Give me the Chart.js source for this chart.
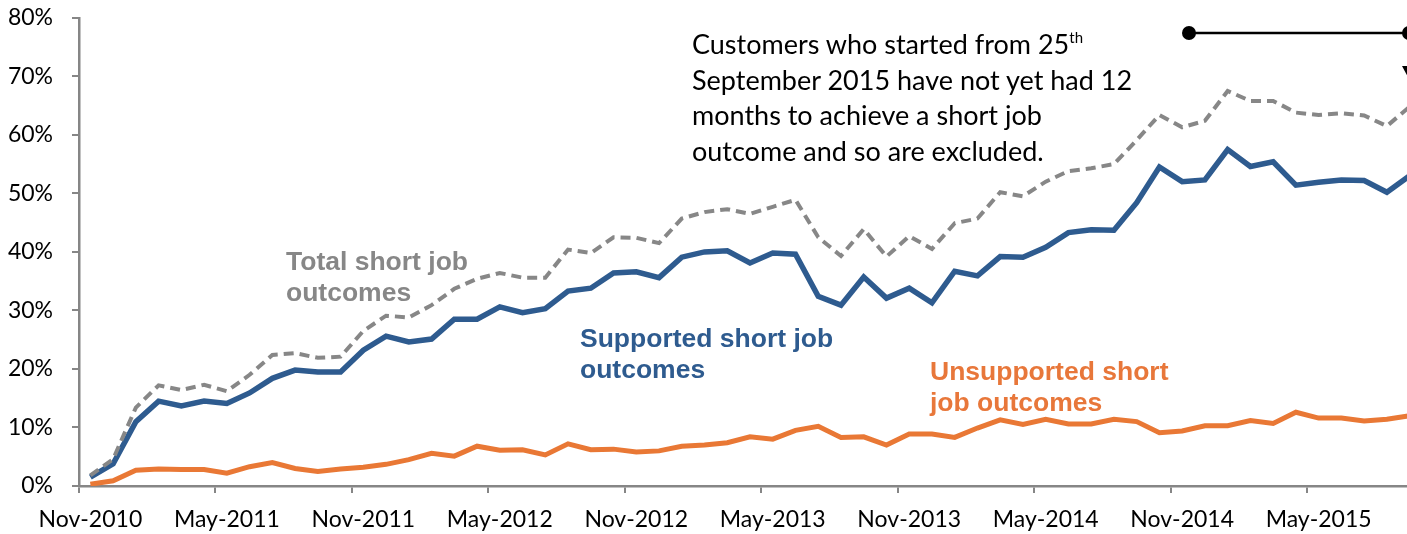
<!DOCTYPE html>
<html>
<head>
<meta charset="utf-8">
<script src="https://cdn.jsdelivr.net/npm/chart.js@4.4.1/dist/chart.umd.min.js"></script>
<style>
  html, body { margin: 0; padding: 0; background: #fff; overflow: hidden; }
  #wrap { position: relative; width: 1430px; height: 534px; }
  #plot { position: absolute; left: 0; top: 0; width: 1430px; height: 534px; }
  .lbl { position: absolute; font-family: "Liberation Sans", Arial, sans-serif; font-weight: bold; font-size: 26.5px; line-height: 31px; white-space: nowrap; }
  #note { position: absolute; left: 692px; top: 26px; font-family: Lato, "Open Sans", sans-serif; font-size: 27px; line-height: 35.5px; color: #000; white-space: nowrap; }
  #note sup { font-size: 15px; line-height: 0; vertical-align: 0; position: relative; top: -11px; }
</style>
</head>
<body>
<div id="wrap">
  <div id="plot"><canvas id="jobChart"></canvas></div>
  <div class="lbl" style="left:286px; top:246px; color:#878787;">Total short job<br>outcomes</div>
  <div class="lbl" style="left:580px; top:323px; color:#2E5B8F;">Supported short job<br>outcomes</div>
  <div class="lbl" style="left:930px; top:356px; color:#E8773A;">Unsupported short<br>job outcomes</div>
  <div id="note">Customers who started from 25<sup>th</sup><br>September 2015 have not yet had 12<br>months to achieve a short job<br>outcome and so are excluded.</div>
</div>
<script>
// monthly categories, Nov-2010 .. Sep-2015
const monthNames = ['Jan', 'Feb', 'Mar', 'Apr', 'May', 'Jun', 'Jul', 'Aug', 'Sep', 'Oct', 'Nov', 'Dec'];
const months = [];
for (let i = 0; i < 59; i++) {
  const m = (10 + i) % 12;
  const y = 2010 + Math.floor((10 + i) / 12);
  months.push(monthNames[m] + '-' + y);
}

// short job outcome rates (%)
const totalShort = [1.8, 4.6, 13.4, 17.2, 16.4, 17.3, 16.2, 19.0, 22.4, 22.7,
  21.9, 22.1, 26.5, 29.1, 28.8, 30.9, 33.7, 35.4, 36.4, 35.6,
  35.6, 40.4, 39.8, 42.5, 42.4, 41.5, 45.7, 46.8, 47.3, 46.5,
  47.7, 48.9, 42.5, 39.3, 43.9, 39.2, 42.7, 40.5, 44.9, 45.7,
  50.2, 49.5, 52.0, 53.8, 54.3, 55.0, 59.1, 63.4, 61.3, 62.4,
  67.5, 65.8, 65.8, 63.8, 63.4, 63.7, 63.3, 61.5, 64.8];
const supportedShort = [1.5, 3.8, 11.0, 14.5, 13.7, 14.5, 14.1, 15.9, 18.4, 19.8,
  19.5, 19.5, 23.2, 25.6, 24.6, 25.1, 28.5, 28.5, 30.6, 29.6,
  30.3, 33.3, 33.8, 36.4, 36.6, 35.6, 39.1, 40.0, 40.2, 38.1,
  39.8, 39.6, 32.4, 30.9, 35.7, 32.1, 33.8, 31.3, 36.7, 35.9,
  39.2, 39.1, 40.8, 43.3, 43.8, 43.7, 48.4, 54.5, 52.0, 52.3,
  57.5, 54.6, 55.4, 51.4, 51.9, 52.3, 52.2, 50.2, 53.0];
const unsupportedShort = [0.3, 0.9, 2.7, 2.9, 2.8, 2.8, 2.2, 3.3, 4.0, 3.0,
  2.5, 2.9, 3.2, 3.7, 4.5, 5.6, 5.1, 6.8, 6.1, 6.2,
  5.3, 7.2, 6.2, 6.3, 5.8, 6.0, 6.8, 7.0, 7.4, 8.4,
  8.0, 9.5, 10.2, 8.3, 8.4, 7.0, 8.9, 8.9, 8.3, 9.9,
  11.3, 10.5, 11.4, 10.6, 10.6, 11.4, 11.0, 9.1, 9.4, 10.3,
  10.3, 11.2, 10.7, 12.6, 11.6, 11.6, 11.1, 11.4, 12.0];

const axisGrey = '#868686';
const axisFont = { family: 'Lato, "Open Sans", sans-serif', size: 23 };
const plotTop = 18; // where 80% sits on the page
let shiftY = 0;     // canvas offset used to pin the plot top

// bracket marking the excluded period
const bracketPlugin = {
  id: 'bracket',
  afterDraw(chart) {
    const ctx = chart.ctx;
    const x1 = 1189, x2 = 1409, y = 33 + shiftY;
    ctx.save();
    ctx.strokeStyle = '#000';
    ctx.fillStyle = '#000';
    ctx.lineWidth = 2.5;
    ctx.beginPath();
    ctx.moveTo(x1, y);
    ctx.lineTo(x2, y);
    ctx.lineTo(x2, 70 + shiftY);
    ctx.stroke();
    [x1, x2].forEach(x => {
      ctx.beginPath();
      ctx.arc(x, y, 7, 0, Math.PI * 2);
      ctx.fill();
    });
    ctx.beginPath();
    ctx.moveTo(x2 - 7, 66 + shiftY);
    ctx.lineTo(x2 + 7, 66 + shiftY);
    ctx.lineTo(x2, 79 + shiftY);
    ctx.closePath();
    ctx.fill();
    ctx.restore();
  }
};

const jobChart = new Chart('jobChart', {
  type: 'line',
  data: {
    labels: months,
    datasets: [
      { label: 'Total short job outcomes', data: totalShort, borderColor: '#878787', borderWidth: 4, borderDash: [10, 6] },
      { label: 'Supported short job outcomes', data: supportedShort, borderColor: '#2E5B8F', borderWidth: 5.5 },
      { label: 'Unsupported short job outcomes', data: unsupportedShort, borderColor: '#E97835', borderWidth: 5 }
    ]
  },
  options: {
    responsive: true,
    maintainAspectRatio: false,
    animation: false,
    devicePixelRatio: 1,
    elements: { point: { radius: 0 }, line: { tension: 0, borderCapStyle: 'butt', borderJoinStyle: 'miter' } },
    layout: { padding: { top: 4, right: 9, left: 0, bottom: 0 } },
    plugins: { legend: { display: false }, tooltip: { enabled: false } },
    scales: {
      x: {
        offset: true,
        grid: {
          offset: true,
          drawOnChartArea: false,
          tickLength: 7,
          lineWidth: 2,
          color: ctx => (ctx.index % 6 === 0 ? axisGrey : 'rgba(0,0,0,0)')
        },
        border: { color: axisGrey, width: 2.5 },
        ticks: {
          autoSkip: false,
          maxRotation: 0,
          padding: 13,
          color: '#000',
          font: axisFont,
          callback: (v, i) => (i % 6 === 0 ? months[i] : '')
        },
        afterFit: s => { s.height = 48; }
      },
      y: {
        min: 0,
        max: 80,
        grid: { drawOnChartArea: false, tickLength: 7, lineWidth: 2, color: axisGrey },
        border: { color: axisGrey, width: 2.5 },
        ticks: { stepSize: 10, padding: 19, color: '#000', font: axisFont, callback: v => v + '%' },
        afterFit: s => { s.width = 79; }
      }
    }
  }
  ,
  plugins: [bracketPlugin]
});

// pull the canvas up so the 80% line lands where the reference has it
shiftY = Math.round(jobChart.chartArea.top - plotTop);
if (shiftY > 0) {
  const plot = document.getElementById('plot');
  plot.style.top = -shiftY + 'px';
  plot.style.height = (534 + shiftY) + 'px';
  jobChart.resize();
}
</script>
</body>
</html>
